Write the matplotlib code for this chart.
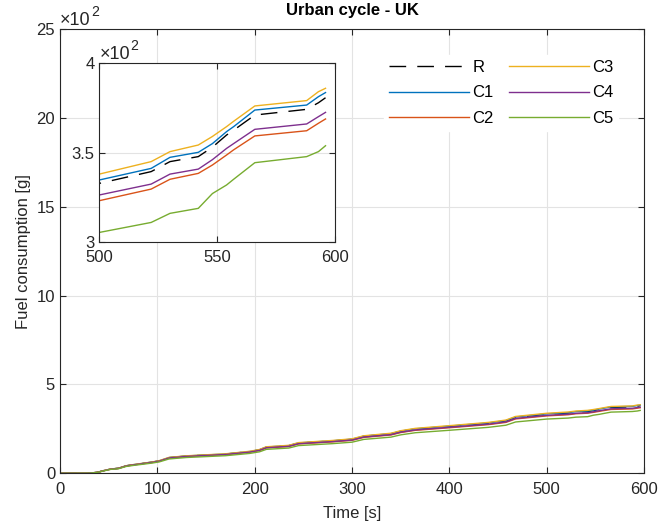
import matplotlib
matplotlib.use("Agg")
import matplotlib.pyplot as plt
from matplotlib.ticker import FuncFormatter

plt.rcParams["font.family"] = ["Liberation Sans", "DejaVu Sans"]

# time axis [s]
t = [0, 30, 38, 45, 52, 60, 68, 75, 95, 102, 112, 130, 170, 195, 205, 212,
     235, 245, 280, 300, 312, 340, 350, 365, 400, 440, 458, 468, 500,
     522, 530, 542, 548, 554, 557, 566, 588, 593, 596]

# cumulative fuel consumption [g]
fuel_R = [0, 1, 5, 15, 24, 28, 42, 48, 63, 70, 88, 97, 108, 122, 132, 147,
          155, 170, 182, 191, 208, 222, 236, 249, 264, 282, 295, 315, 332.7,
          339.3, 344.9, 347.7, 353.0, 359.8, 362.5, 371.0, 374.2, 377.9, 380.7]
fuel_C1 = [0, 1, 5, 15.1, 24.1, 28.2, 42.2, 48.3, 63.4, 70.4, 88.5, 97.6, 108.6,
           122.7, 132.8, 147.8, 155.9, 171.0, 183.0, 192.1, 209.2, 223.3, 237.3,
           250.4, 265.5, 283.6, 296.7, 316.8, 334.6,
           341.1, 347.3, 350.1, 355.0, 361.7, 364.5, 373.8, 376.6, 381.3, 383.6]
fuel_C2 = [0, 1, 4.9, 14.6, 23.3, 27.2, 40.8, 46.6, 61.2, 68.0, 85.4, 94.2, 104.9,
           118.5, 128.2, 142.7, 150.5, 165.1, 176.7, 185.5, 202.0, 215.6, 229.2,
           241.8, 256.3, 273.8, 286.4, 305.9, 323.0,
           329.5, 335.0, 338.3, 343.0, 348.6, 351.5, 359.3, 362.2, 366.4, 368.8]
fuel_C3 = [0, 1, 5, 15.2, 24.4, 28.4, 42.7, 48.7, 64.0, 71.1, 89.4, 98.5, 109.7,
           123.9, 134.0, 149.3, 157.4, 172.7, 184.8, 194.0, 211.2, 225.5, 239.7,
           252.9, 268.1, 286.4, 299.6, 319.9, 337.9,
           344.9, 350.5, 354.2, 359.0, 364.5, 367.5, 376.1, 379.1, 384.1, 386.0]
fuel_C4 = [0, 1, 4.9, 14.7, 23.5, 27.5, 41.2, 47.1, 61.8, 68.6, 86.3, 95.1, 105.9,
           119.6, 129.4, 144.1, 152.0, 166.7, 178.5, 187.3, 203.9, 217.7, 231.4,
           244.1, 258.9, 276.5, 289.2, 308.9, 326.2,
           332.3, 337.9, 340.7, 346.0, 352.3, 355.0, 363.0, 366.0, 370.1, 372.5]
fuel_C5 = [0, 0.9, 4.6, 13.8, 22.0, 25.7, 38.5, 44.0, 57.8, 64.2, 80.7, 88.9, 99.0,
           111.9, 121.0, 134.8, 142.1, 155.9, 166.9, 175.1, 190.7, 203.6, 216.4,
           228.3, 242.1, 258.6, 270.5, 288.8, 305.2,
           310.8, 315.9, 318.7, 327.0, 331.8, 335.0, 344.3, 347.7, 350.5, 353.8]

series = [
    ("R", fuel_R, "black", (0, (12, 8))),
    ("C1", fuel_C1, "#0072BD", "-"),
    ("C2", fuel_C2, "#D95319", "-"),
    ("C3", fuel_C3, "#EDB120", "-"),
    ("C4", fuel_C4, "#7E2F8E", "-"),
    ("C5", fuel_C5, "#77AC30", "-"),
]

axcol = "#262626"
fs = 12


def style_axes(ax):
    ax.grid(True, color="#e3e3e3", linewidth=0.8)
    ax.set_axisbelow(True)
    ax.tick_params(direction="in", colors=axcol, labelsize=fs, length=4,
                   top=True, right=True, labelcolor=axcol)
    ax.tick_params(axis="x", pad=6)
    for s in ax.spines.values():
        s.set_color(axcol)
        s.set_linewidth(0.8)


def exponent_label(ax, dy):
    # "x10^2" multiplier above the y axis, like MATLAB draws it
    base = ax.text(0.0, 1.0 + dy, "×10", transform=ax.transAxes, fontsize=fs + 1,
                   color=axcol, ha="left", va="bottom")
    ax.annotate("2", xy=(1.0, 0.6), xycoords=base, xytext=(0.5, 0),
                textcoords="offset points", fontsize=fs * 0.85, color=axcol,
                ha="left", va="bottom")


hundreds = FuncFormatter(lambda v, p: f"{v / 100:g}")

fig = plt.figure(figsize=(6.6, 5.28), dpi=100)
ax = fig.add_axes([0.0909, 0.1036, 0.885, 0.8414])
for name, y, c, ls in series:
    ax.plot(t, y, color=c, linestyle=ls, linewidth=1.0, label=name)
ax.set_xlim(0, 600)
ax.set_ylim(0, 2500)
ax.set_xticks(range(0, 601, 100))
ax.set_yticks(range(0, 2501, 500))
ax.yaxis.set_major_formatter(hundreds)
style_axes(ax)
ax.set_xlabel("Time [s]", fontsize=fs, color=axcol, labelpad=7)
ax.set_ylabel("Fuel consumption [g]", fontsize=fs, color=axcol, labelpad=4)
ax.set_title("Urban cycle - UK", fontsize=fs, fontweight="bold", pad=10)
exponent_label(ax, 0.0)

leg = ax.legend(ncol=2, loc="upper right", bbox_to_anchor=(0.97, 0.96),
                frameon=True, fontsize=fs, handlelength=4.8, columnspacing=0.9,
                labelspacing=0.62, handletextpad=0.2, borderpad=0.3)
leg.get_frame().set_edgecolor("white")
leg.get_frame().set_facecolor("white")
leg.get_frame().set_alpha(1)

axin = fig.add_axes([0.1505, 0.5422, 0.357, 0.3379])
for name, y, c, ls in series:
    axin.plot(t, y, color=c, linestyle=ls, linewidth=1.0)
axin.set_xlim(500, 600)
axin.set_ylim(300, 400)
axin.set_xticks([500, 550, 600])
axin.set_yticks([300, 350, 400])
axin.yaxis.set_major_formatter(hundreds)
style_axes(axin)
exponent_label(axin, 0.003)

fig.savefig("out.png", dpi=100)
